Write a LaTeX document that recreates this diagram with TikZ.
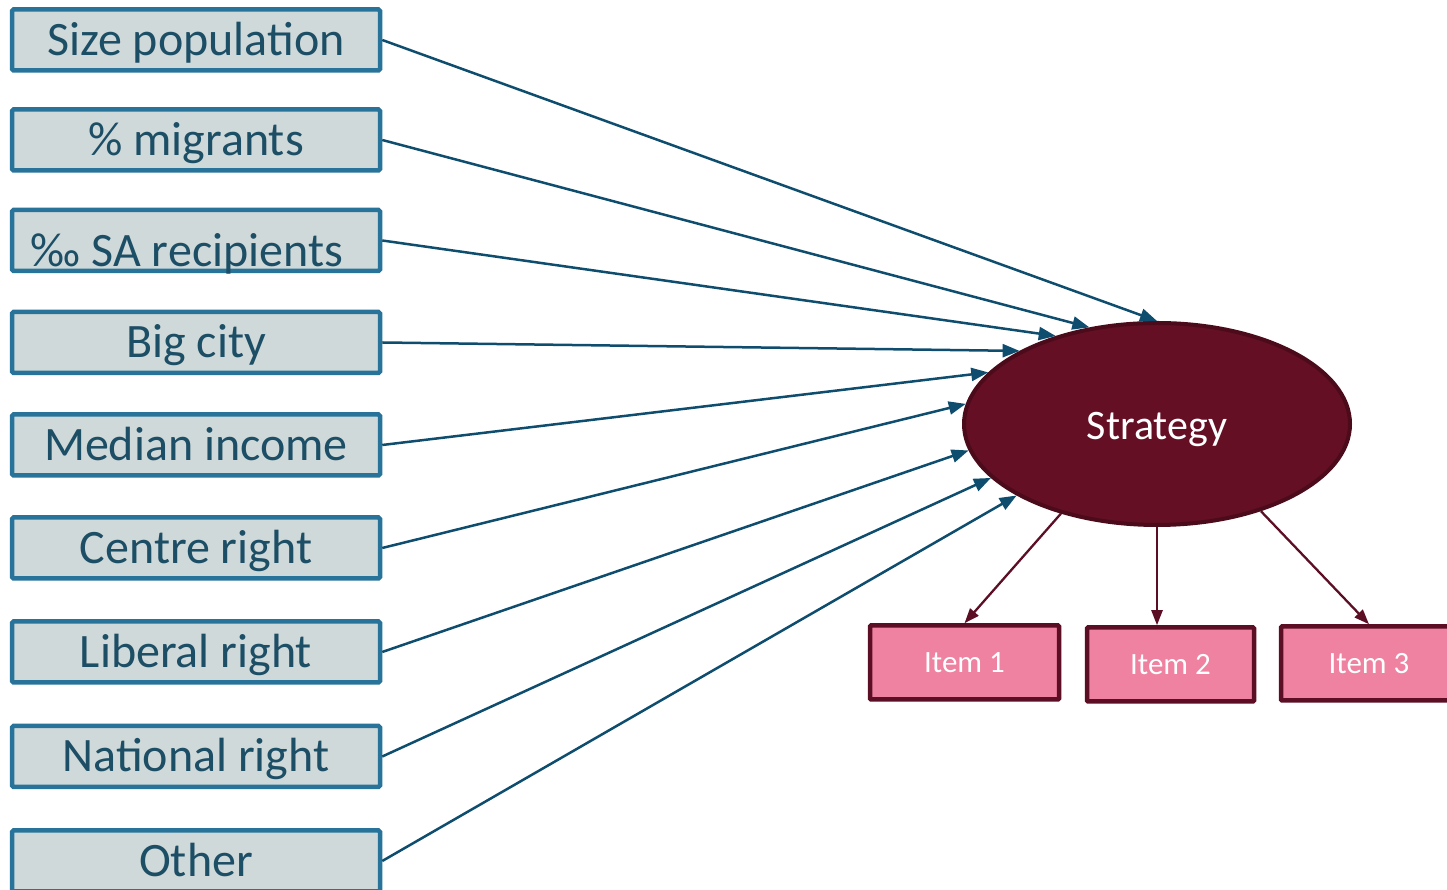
\documentclass[tikz,border=0pt]{standalone}
\usepackage{fontspec}
\setmainfont{Carlito}
\usepackage{tikz}
\usetikzlibrary{arrows.meta,shapes.geometric}
\definecolor{boxfill}{HTML}{D0D9D9}
\definecolor{boxline}{HTML}{27739A}
\definecolor{boxtext}{HTML}{1C4E66}
\definecolor{arrowblue}{HTML}{0E4D6E}
\definecolor{latfill}{HTML}{640F24}
\definecolor{latline}{HTML}{4B0B1B}
\definecolor{itemfill}{HTML}{EE82A0}
\definecolor{itemline}{HTML}{5C0E25}
\tikzstyle{covar} = [rectangle, draw=boxline, fill=boxfill, line width=4.5pt, rounded corners=1.5pt, minimum width=368pt, minimum height=61pt, inner sep=0pt, text=boxtext, font=\fontsize{48}{50}\selectfont, text height=36pt, text depth=5pt]
\tikzstyle{latent} = [ellipse, draw=latline, fill=latfill, line width=4pt, minimum width=386pt, minimum height=202pt, inner sep=0pt, text=white, font=\fontsize{42}{44}\selectfont, text height=38pt, text depth=6pt]
\tikzstyle{item} = [rectangle, draw=itemline, fill=itemfill, line width=4.5pt, rounded corners=1pt, minimum height=74pt, inner sep=0pt, text=white, font=\fontsize{31}{34}\selectfont]
\tikzstyle{pred} = [draw=arrowblue, line width=2.5pt, -{Triangle[length=17pt,width=13pt]}]
\tikzstyle{load} = [draw=itemline, line width=2.3pt, -{Triangle[length=15pt,width=11pt]}]

\begin{document}
\begin{tikzpicture}[x=1pt, y=1pt]
    \useasboundingbox (0,0) rectangle (1447,890);
    \node[covar] (A) at (196,850) {Size population};
    \node[covar] (B) at (196,750) {\% migrants};
    \node[covar] (C) at (196,649.5) {\raisebox{-11pt}{\hspace*{-18pt}‰ SA recipients}};
    \node[covar] (D) at (196,547.5) {Big city};
    \node[covar] (E) at (196,445) {Median income};
    \node[covar] (F) at (196,342) {Centre right};
    \node[covar] (G) at (196,238) {Liberal right};
    \node[covar] (H) at (196,133.5) {National right};
    \node[covar] (K) at (196,29) {Other};
    \node[latent] (S) at (1157,466) {Strategy};
    \node[item, minimum width=189pt] (I1) at (964.5,227.5) {Item 1};
    \node[item, minimum width=167pt] (I2) at (1170.5,225.5) {Item 2};
    \node[item, minimum width=176pt] (I3) at (1369,226.5) {Item 3};
    % predictors
    \draw[pred] (A.east) -- (S.90);
    \draw[pred] (B.east) -- (S.125);
    \draw[pred] (C.east) -- (S.139);
    \draw[pred] (D.east) -- (S.152);
    \draw[pred] (E.east) -- (S.163);
    \draw[pred] (F.east) -- (S.174);
    \draw[pred] (G.east) -- (S.188);
    \draw[pred] (H.east) -- (S.198);
    \draw[pred] (K.east) -- (S.207);
    % items
    \draw[load] (S.223.5) -- (I1.north);
    \draw[load] (S.south) -- (S.south |- I2.north);
    \draw[load] (S.320) -- (I3.north);
\end{tikzpicture}
\end{document}
